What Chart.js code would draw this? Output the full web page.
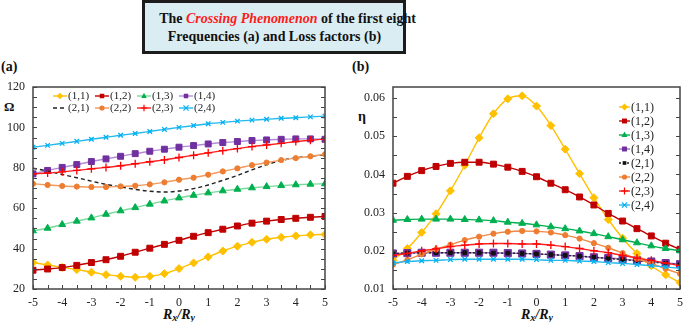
<!DOCTYPE html>
<html>
<head>
<meta charset="utf-8">
<script src="https://cdn.jsdelivr.net/npm/chart.js@4.4.0/dist/chart.umd.min.js"></script>
<style>
  html, body { margin:0; padding:0; background:#fff; width:685px; height:322px; overflow:hidden; }
  body { position:relative; font-family:'Liberation Serif','Times New Roman',serif; color:#111; }
  .abs { position:absolute; }
  #titleBox { left:142px; top:0px; width:264px; height:54px; box-sizing:border-box; border:3px solid #1c1c1c;
    background:#daedf3; text-align:center; font-weight:bold; font-size:15.5px; line-height:18px; padding-top:6px; color:#111; white-space:nowrap; }
  #titleBox span.l { display:inline-block; transform:scaleX(0.9); transform-origin:50% 50%; }
  #titleBox i { color:#ff1a1a; }
  .panelLabel { font-weight:bold; font-size:14px; line-height:14px; }
  .axisSym { font-weight:bold; font-size:13px; line-height:13px; }
  .xTitle { font-weight:bold; font-style:italic; font-size:14px; line-height:14px; white-space:nowrap; transform:translateX(-50%); }
  .xTitle sub { font-size:10px; vertical-align:-2px; font-style:italic; }
  canvas { position:absolute; }
</style>
</head>
<body>
<div id="titleBox" class="abs"><span class="l">The <i>Crossing Phenomenon</i> of the first eight</span><br><span class="l">Frequencies (a) and Loss factors (b)</span></div>
<div class="abs panelLabel" style="left:1px; top:60px;">(a)</div>
<div class="abs panelLabel" style="left:352px; top:60px;">(b)</div>
<div class="abs axisSym" style="left:4px; top:100px;">Ω</div>
<div class="abs axisSym" style="left:358px; top:110px; font-size:14px;">η</div>
<div class="abs xTitle" style="left:179px; top:308px;">R<sub>x</sub>/R<sub>y</sub></div>
<div class="abs xTitle" style="left:537px; top:308px;">R<sub>x</sub>/R<sub>y</sub></div>
<canvas id="chartA" width="342" height="267" style="left:0px; top:55px;"></canvas>
<canvas id="chartB" width="345" height="267" style="left:345px; top:55px;"></canvas>
<script>
// ---------- DATA ----------
const xValues = [-5,-4.5,-4,-3.5,-3,-2.5,-2,-1.5,-1,-0.5,0,0.5,1,1.5,2,2.5,3,3.5,4,4.5,5];
const seriesNames = ['(1,1)','(1,2)','(1,3)','(1,4)','(2,1)','(2,2)','(2,3)','(2,4)'];
const xTicks = [-5,-4,-3,-2,-1,0,1,2,3,4,5];
const yTicksA = [20,40,60,80,100,120];
const yTicksB = [0.01,0.02,0.03,0.04,0.05,0.06];

// (a) Frequencies Ω
const freq11 = [33.1,31.9,30.7,29.6,28.3,27.1,26.3,25.8,26.3,27.6,30.1,32.9,35.9,38.8,41.2,43.1,44.6,45.6,46.3,46.8,47.0];
const freq12 = [29.3,29.9,30.6,31.7,33.1,34.5,36.2,38.2,40.2,42.1,44.1,46.1,47.9,49.6,51.2,52.6,53.6,54.4,55.0,55.5,55.9];
const freq13 = [48.8,50.1,51.9,53.6,55.2,57.0,58.7,60.3,62.0,63.6,65.1,66.4,67.6,68.6,69.4,70.1,70.7,71.2,71.6,71.9,72.1];
const freq14 = [77.0,78.7,80.2,81.6,83.1,84.4,85.7,87.0,88.2,89.2,90.2,91.0,91.8,92.5,93.0,93.5,93.8,94.1,94.3,94.3,94.1];
const freq21 = [79.8,78.4,76.7,75.1,73.4,71.8,70.5,69.3,68.4,68.0,68.5,69.7,71.5,73.8,76.2,79.0,81.5,83.6,84.9,85.7,86.4];
const freq22 = [72.1,71.5,71.0,70.7,70.5,70.5,70.8,71.1,71.8,72.8,74.1,75.1,76.6,78.2,79.7,81.3,82.6,83.8,84.8,85.7,86.7];
const freq23 = [77.0,77.4,78.0,78.7,79.5,80.2,81.0,82.0,83.0,83.9,85.1,86.2,87.4,88.5,89.5,90.5,91.3,92.1,93.0,93.6,94.3];
const freq24 = [90.2,91.1,92.1,93.1,94.1,95.1,96.1,97.0,98.0,99.0,100.0,100.9,101.8,102.5,103.1,103.6,104.0,104.5,104.8,105.2,105.6];

// (b) Loss factors η
const loss11 = [0.0175,0.0206,0.0248,0.0297,0.0357,0.0424,0.0496,0.0559,0.0598,0.0606,0.0579,0.0528,0.0466,0.0402,0.0339,0.0282,0.0233,0.0193,0.0161,0.0137,0.0117];
const loss12 = [0.0377,0.0395,0.0410,0.0421,0.0429,0.0432,0.0432,0.0427,0.0419,0.0408,0.0394,0.0377,0.0360,0.0341,0.0320,0.0298,0.0278,0.0258,0.0239,0.0220,0.0204];
const loss13 = [0.0280,0.0282,0.0283,0.0283,0.0283,0.0282,0.0281,0.0279,0.0275,0.0272,0.0268,0.0263,0.0258,0.0252,0.0245,0.0237,0.0229,0.0221,0.0213,0.0206,0.0200];
const loss14 = [0.0193,0.0194,0.0195,0.0195,0.0195,0.0195,0.0195,0.0195,0.0194,0.0193,0.0192,0.0190,0.0188,0.0186,0.0183,0.0181,0.0178,0.0175,0.0172,0.0168,0.0165];
const loss21 = [0.0193,0.0194,0.0195,0.0195,0.0195,0.0195,0.0195,0.0194,0.0194,0.0193,0.0192,0.0190,0.0188,0.0186,0.0183,0.0180,0.0177,0.0174,0.0171,0.0167,0.0164];
const loss22 = [0.0164,0.0176,0.0191,0.0204,0.0216,0.0228,0.0237,0.0245,0.0250,0.0252,0.0251,0.0248,0.0241,0.0232,0.0220,0.0208,0.0194,0.0179,0.0167,0.0153,0.0140];
const loss23 = [0.0188,0.0193,0.0200,0.0205,0.0211,0.0215,0.0218,0.0219,0.0219,0.0218,0.0218,0.0215,0.0211,0.0206,0.0200,0.0195,0.0188,0.0181,0.0175,0.0168,0.0161];
const loss24 = [0.0168,0.0172,0.0174,0.0175,0.0177,0.0178,0.0178,0.0178,0.0178,0.0178,0.0177,0.0175,0.0175,0.0173,0.0172,0.0169,0.0167,0.0164,0.0161,0.0158,0.0154];

// ---------- STYLES ----------
const SERIF = "'Liberation Serif','Times New Roman',serif";
const stylesA = [
  {line:'#FFC000', mark:'#FFC000', style:'rectRot', r:4},
  {line:'#C00000', mark:'#C00000', style:'rect', r:4.2},
  {line:'#7ad99a', mark:'#00B050', style:'triangle', r:4},
  {line:'#b48ad6', mark:'#7030A0', style:'rect', r:4.2},
  {line:'#222222', mark:'#222222', style:'circle', r:0, dash:[4,3]},
  {line:'#F19a5e', mark:'#ED7D31', style:'circle', r:2.6},
  {line:'#FF2020', mark:'#FF0000', style:'cross', r:4},
  {line:'#22b8f0', mark:'#00B0F0', style:'crossRot', r:3.2}
];
const stylesB = [
  {line:'#FFC000', mark:'#FFC000', style:'rectRot', r:4},
  {line:'#C00000', mark:'#C00000', style:'rect', r:4.2},
  {line:'#00B050', mark:'#00B050', style:'triangle', r:4},
  {line:'#9a6cc0', mark:'#7030A0', style:'rect', r:5},
  {line:'#222222', mark:'#111111', style:'rect', r:2.6, dash:[2,2]},
  {line:'#EE8844', mark:'#ED7D31', style:'circle', r:2.6},
  {line:'#FF2020', mark:'#FF0000', style:'cross', r:4},
  {line:'#22b8f0', mark:'#00B0F0', style:'crossRot', r:3.2}
];

function makeDatasets(seriesList, styles) {
  return seriesList.map((vals, i) => {
    const s = styles[i];
    const cross = (s.style === 'cross' || s.style === 'crossRot');
    return {
      label: seriesNames[i],
      data: xValues.map((x, k) => ({x: x, y: vals[k]})),
      borderColor: s.line,
      borderWidth: 1.4,
      borderDash: s.dash || [],
      backgroundColor: s.mark,
      pointBackgroundColor: s.mark,
      pointBorderColor: s.mark,
      pointBorderWidth: cross ? 1.3 : 1,
      pointStyle: s.style,
      pointRadius: s.r,
      cubicInterpolationMode: 'monotone',
      fill: false,
      order: 20 - i,
      _st: s
    };
  });
}

function drawMarker(ctx, st, x, y) {
  const r = st.r;
  if (!r) return;
  ctx.save();
  ctx.fillStyle = st.mark; ctx.strokeStyle = st.mark; ctx.lineWidth = 1.2;
  ctx.beginPath();
  switch (st.style) {
    case 'circle': ctx.arc(x, y, r, 0, Math.PI*2); ctx.fill(); break;
    case 'rect': { const s = r*0.707; ctx.rect(x-s, y-s, 2*s, 2*s); ctx.fill(); break; }
    case 'rectRot': ctx.moveTo(x, y-r); ctx.lineTo(x+r, y); ctx.lineTo(x, y+r); ctx.lineTo(x-r, y); ctx.closePath(); ctx.fill(); break;
    case 'triangle': ctx.moveTo(x, y-r); ctx.lineTo(x+r*0.87, y+r*0.6); ctx.lineTo(x-r*0.87, y+r*0.6); ctx.closePath(); ctx.fill(); break;
    case 'cross': ctx.moveTo(x, y-r); ctx.lineTo(x, y+r); ctx.moveTo(x-r, y); ctx.lineTo(x+r, y); ctx.stroke(); break;
    case 'crossRot': { const d = r*0.8; ctx.moveTo(x-d, y-d); ctx.lineTo(x+d, y+d); ctx.moveTo(x+d, y-d); ctx.lineTo(x-d, y+d); ctx.stroke(); break; }
  }
  ctx.restore();
}

const framePlugin = {
  id: 'frame',
  afterDatasetsDraw(chart, args, o) {
    const {ctx, chartArea} = chart;
    const {left, right, top, bottom} = chartArea;
    const xs = chart.scales.x, ys = chart.scales.y;
    ctx.save();
    ctx.strokeStyle = o.color; ctx.lineWidth = 1;
    ctx.beginPath();
    for (let i = 0; ; i++) {
      const v = xs.min + i*o.xStep; if (v > xs.max + 1e-9) break;
      const px = Math.round(xs.getPixelForValue(v)) + 0.5;
      ctx.moveTo(px, bottom); ctx.lineTo(px, bottom - o.len);
    }
    for (let i = 0; ; i++) {
      const v = ys.min + i*o.yStep; if (v > ys.max + 1e-9) break;
      const py = Math.round(ys.getPixelForValue(v)) + 0.5;
      ctx.moveTo(left, py); ctx.lineTo(left + o.len, py);
      ctx.moveTo(right, py); ctx.lineTo(right - o.len, py);
    }
    ctx.stroke();
    ctx.lineWidth = o.width;
    ctx.strokeRect(left, top, right-left, bottom-top);
    ctx.restore();
  }
};

const legendPlugin = {
  id: 'boxLegend',
  afterDraw(chart, args, o) {
    const {ctx, chartArea} = chart;
    ctx.save();
    ctx.font = o.fontSize + 'px ' + SERIF;
    ctx.fillStyle = '#222';
    ctx.textBaseline = 'middle';
    chart.data.datasets.forEach((ds, i) => {
      const col = i % o.cols, row = Math.floor(i / o.cols);
      const x0 = chartArea.left + o.x + col*o.colW;
      const y0 = chartArea.top + o.y + row*o.rowH;
      const st = ds._st;
      ctx.save();
      ctx.strokeStyle = st.line; ctx.lineWidth = 1.4;
      ctx.setLineDash(st.dash || []);
      ctx.beginPath(); ctx.moveTo(x0, y0); ctx.lineTo(x0 + o.sampleW, y0); ctx.stroke();
      ctx.restore();
      drawMarker(ctx, {...st, r: st.r ? Math.min(st.r, o.markR) : 0}, x0 + o.sampleW/2, y0);
      ctx.fillText(ds.label, x0 + o.sampleW + 1, y0 + 0.5);
    });
    ctx.restore();
  }
};

function tickFont() { return {family: SERIF, size: 12}; }

function makeChart(id, datasets, cfg) {
  return new Chart(document.getElementById(id), {
    type: 'line',
    data: {datasets: datasets},
    plugins: [framePlugin, legendPlugin],
    options: {
      responsive: false, animation: false, devicePixelRatio: 1,
      layout: {padding: {top: cfg.padTop, right: cfg.padRight, left: 0, bottom: 0}},
      plugins: {
        legend: {display: false}, tooltip: {enabled: false},
        frame: {color: '#444', width: 1.5, len: 4, xStep: 0.5, yStep: cfg.yMinor},
        boxLegend: cfg.legend
      },
      scales: {
        x: {
          type: 'linear', min: -5, max: 5,
          afterBuildTicks(s) { s.ticks = xTicks.map(v => ({value: v})); },
          ticks: {font: tickFont(), color: '#222', padding: 7, maxRotation: 0, autoSkip: false, callback: v => String(v)},
          grid: {display: false, drawTicks: false}, border: {display: false},
          afterFit(s) { s.height = cfg.xH; }
        },
        y: {
          type: 'linear', min: cfg.yMin, max: cfg.yMax,
          afterBuildTicks(s) { s.ticks = cfg.yTicks.map(v => ({value: v})); },
          ticks: {font: tickFont(), color: '#222', padding: 8, autoSkip: false, callback: cfg.yFmt},
          grid: {display: false, drawTicks: false}, border: {display: false},
          afterFit(s) { s.width = cfg.yW; }
        }
      }
    }
  });
}

makeChart('chartA',
  makeDatasets([freq11,freq12,freq13,freq14,freq21,freq22,freq23,freq24], stylesA),
  {padTop: 32, padRight: 17, xH: 33, yW: 33, yMin: 20, yMax: 120, yTicks: yTicksA, yMinor: 5,
   yFmt: v => String(v),
   legend: {cols: 4, x: 20, y: 9, colW: 42, rowH: 12, sampleW: 14, markR: 3.2, fontSize: 11}});

makeChart('chartB',
  makeDatasets([loss11,loss12,loss13,loss14,loss21,loss22,loss23,loss24], stylesB),
  {padTop: 32, padRight: 8, xH: 33, yW: 48, yMin: 0.01, yMax: 0.0629, yTicks: yTicksB, yMinor: 0.005,
   yFmt: v => Number(v).toFixed(2),
   legend: {cols: 1, x: 226, y: 20, colW: 0, rowH: 14, sampleW: 11, markR: 3.5, fontSize: 12}});
</script>
</body>
</html>
